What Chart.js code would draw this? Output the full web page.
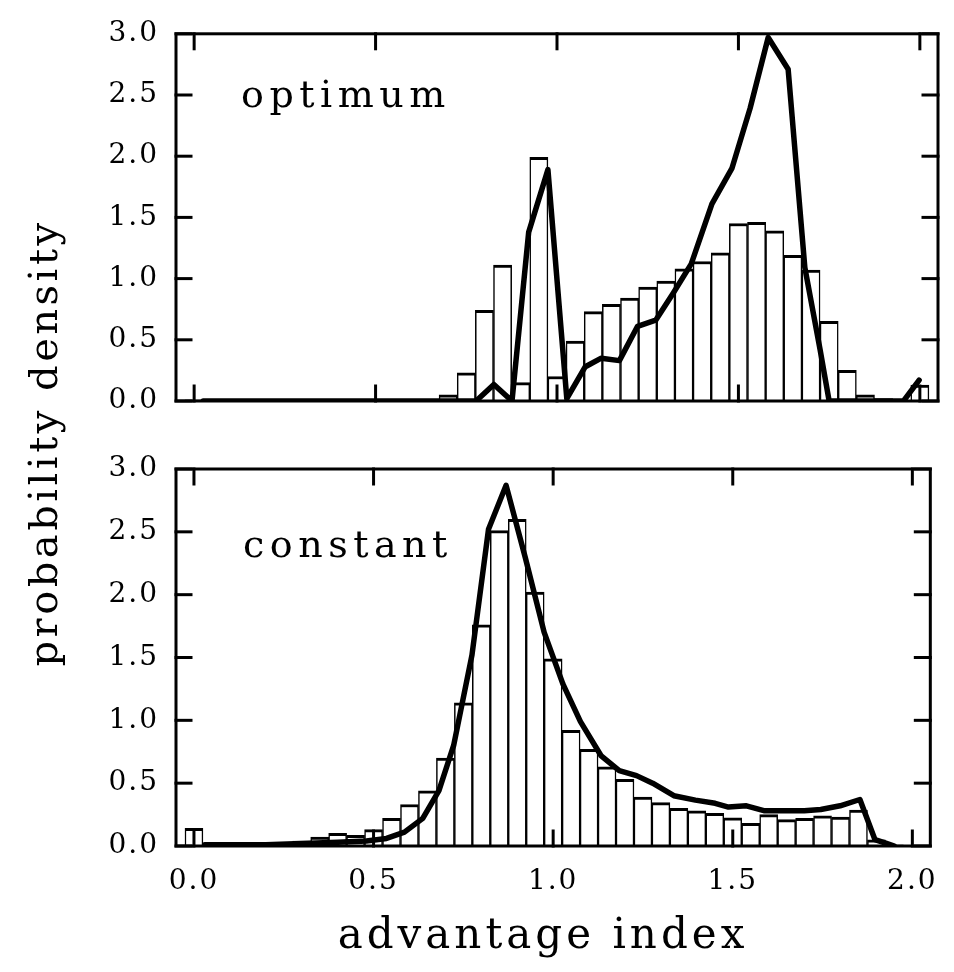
<!DOCTYPE html>
<html>
<head>
<meta charset="utf-8">
<script src="https://cdn.jsdelivr.net/npm/chart.js@4.4.0/dist/chart.umd.min.js"></script>
<style>
html,body{margin:0;padding:0;background:#fff;}
#wrap{position:relative;width:954px;height:972px;overflow:hidden;}
canvas{position:absolute;left:0;top:0;}
</style>
</head>
<body>
<div id="wrap">
<canvas id="cTop" width="954" height="972"></canvas>
<canvas id="cBot" width="954" height="972"></canvas>
</div>
<script>
// ---------- data ----------
const binCenters = [0.00,0.05,0.10,0.15,0.20,0.25,0.30,0.35,0.40,0.45,0.50,0.55,0.60,0.65,0.70,0.75,0.80,0.85,0.90,0.95,1.00,1.05,1.10,1.15,1.20,1.25,1.30,1.35,1.40,1.45,1.50,1.55,1.60,1.65,1.70,1.75,1.80,1.85,1.90,1.95,2.00];

const optimumBars = [0.01,0,0,0,0,0,0,0,0,0,0,0,0,0,0.05,0.23,0.74,1.11,0.15,1.99,0.20,0.49,0.73,0.79,0.84,0.93,0.98,1.08,1.14,1.21,1.45,1.46,1.39,1.19,1.07,0.65,0.25,0.05,0.02,0,0.13];

const constantBars = [0.14,0,0,0,0.01,0.02,0.04,0.07,0.10,0.085,0.13,0.22,0.33,0.44,0.70,1.14,1.76,2.51,2.60,2.02,1.49,0.92,0.77,0.63,0.53,0.39,0.345,0.30,0.28,0.26,0.225,0.18,0.25,0.21,0.22,0.24,0.23,0.285,0.05,0.01,0];

const optimumCurveX = [0.025,0.777,0.826,0.876,0.922,0.975,1.027,1.078,1.122,1.172,1.222,1.272,1.321,1.370,1.427,1.482,1.532,1.582,1.637,1.683,1.725,1.750,1.955,1.998];
const optimumCurveY = [0,0,0.135,0,1.38,1.89,0.02,0.28,0.35,0.33,0.61,0.66,0.885,1.12,1.61,1.90,2.39,2.97,2.71,1.09,0.42,0,0,0.17];

const constantCurveX = [0.03,0.20,0.30,0.40,0.48,0.536,0.586,0.637,0.682,0.723,0.774,0.820,0.869,0.922,0.975,1.027,1.076,1.133,1.184,1.232,1.277,1.336,1.396,1.451,1.488,1.538,1.589,1.644,1.699,1.745,1.799,1.854,1.896,1.928,1.950];
const constantCurveY = [0.01,0.01,0.02,0.03,0.04,0.06,0.11,0.22,0.44,0.80,1.52,2.52,2.87,2.30,1.70,1.29,0.99,0.72,0.60,0.56,0.50,0.40,0.365,0.34,0.31,0.32,0.28,0.28,0.28,0.29,0.32,0.37,0.05,0.02,0.0];

const xTickValues = [0.0,0.5,1.0,1.5,2.0];
const yTickValues = [0.0,0.5,1.0,1.5,2.0,2.5,3.0];
const panelLabels = ['optimum','constant'];
const xAxisTitle = 'advantage index';
const yAxisTitle = 'probability density';

// ---------- helpers ----------
const FONT = "'DejaVu Serif', 'Liberation Serif', serif";
Chart.defaults.font.family = FONT;
Chart.defaults.color = '#000';

function toPoints(xs, ys){ return xs.map((x,i)=>({x:x, y:ys[i]})); }

function spacedText(ctx, text, x, y, font, ls, align, rot){
  ctx.save();
  ctx.font = font;
  ctx.fillStyle = '#000';
  if ('letterSpacing' in ctx) ctx.letterSpacing = ls + 'px';
  ctx.textAlign = align;
  ctx.textBaseline = 'alphabetic';
  ctx.translate(x, y);
  if (rot) ctx.rotate(rot);
  ctx.fillText(text, 0, 0);
  ctx.restore();
}

const spacingPlugin = {
  id: 'spacing',
  beforeDraw(chart){ if ('letterSpacing' in chart.ctx) chart.ctx.letterSpacing = '2px'; }
};

function seg(ctx, x1, y1, x2, y2){
  ctx.beginPath(); ctx.moveTo(x1, y1); ctx.lineTo(x2, y2); ctx.stroke();
}

const framePlugin = {
  id: 'frame',
  afterDraw(chart, args, opts){
    const ctx = chart.ctx;
    const a = chart.chartArea;
    const xs = chart.scales.x, ys = chart.scales.y;
    ctx.save();
    ctx.setLineDash([]);
    ctx.strokeStyle = '#000';
    ctx.lineWidth = 3;
    ctx.lineCap = 'square';
    ctx.strokeRect(a.left, a.top, a.right - a.left, a.bottom - a.top);
    const L = 15;
    xTickValues.forEach(v => {
      const px = xs.getPixelForValue(v);
      seg(ctx, px, a.top, px, a.top + L);
      seg(ctx, px, a.bottom, px, a.bottom - L);
    });
    yTickValues.forEach(v => {
      const py = ys.getPixelForValue(v);
      seg(ctx, a.left, py, a.left + L, py);
      seg(ctx, a.right, py, a.right - L, py);
    });
    ctx.restore();
    spacedText(ctx, opts.label, opts.lx, opts.ly, "38px " + FONT, 5.5, 'left', 0);
    if (opts.titles) {
      spacedText(ctx, xAxisTitle, 543, 948, "42px " + FONT, 4, 'center', 0);
      spacedText(ctx, yAxisTitle, 57, 443, "40px " + FONT, 3.5, 'center', -Math.PI/2);
    }
  }
};

function makeChart(canvasId, bars, cx, cy, label, isBottom){
  const plotTop = isBottom ? 469 : 24;
  const plotBottom = isBottom ? 846 : 401;
  return new Chart(document.getElementById(canvasId), {
    type: 'bar',
    data: {
      datasets: [
        {
          type: 'line',
          data: toPoints(cx, cy),
          borderColor: '#000',
          borderWidth: 5.5,
          pointRadius: 0,
          tension: 0,
          fill: false,
          borderJoinStyle: 'round',
          borderCapStyle: 'round',
          order: 0
        },
        {
          type: 'bar',
          data: toPoints(binCenters, bars),
          backgroundColor: '#fff',
          borderColor: '#000',
          borderWidth: {top: 3, left: 1.5, right: 1.5, bottom: 0},
          borderSkipped: 'start',
          barPercentage: 1.0,
          categoryPercentage: 1.0,
          order: 1
        }
      ]
    },
    options: {
      responsive: false,
      animation: false,
      devicePixelRatio: 1,
      events: [],
      layout: { padding: { left: 0, right: 16, top: plotTop, bottom: isBottom ? 0 : 972 - plotBottom } },
      plugins: {
        legend: { display: false },
        tooltip: { enabled: false },
        frame: { label: label, lx: isBottom ? 243 : 241, ly: isBottom ? 557 : 107, titles: isBottom }
      },
      scales: {
        x: {
          type: 'linear',
          offset: false,
          min: -0.05, max: 2.05,
          afterBuildTicks: s => { s.ticks = xTickValues.map(v => ({value: v})); },
          afterFit: s => { s.height = isBottom ? 972 - plotBottom : 0; },
          ticks: {
            display: isBottom,
            padding: 19,
            font: { size: 28 },
            color: '#000',
            maxRotation: 0,
            autoSkip: false,
            callback: v => Number(v).toFixed(1)
          },
          grid: { display: false, drawTicks: false },
          border: { display: false }
        },
        y: {
          type: 'linear',
          min: 0, max: 3,
          afterBuildTicks: s => { s.ticks = yTickValues.map(v => ({value: v})); },
          afterFit: s => { s.width = 176; },
          ticks: {
            padding: 17,
            font: { size: 28 },
            color: '#000',
            autoSkip: false,
            callback: v => Number(v).toFixed(1)
          },
          grid: { display: false, drawTicks: false },
          border: { display: false }
        }
      }
    },
    plugins: [spacingPlugin, framePlugin]
  });
}

makeChart('cTop', optimumBars, optimumCurveX, optimumCurveY, panelLabels[0], false);
makeChart('cBot', constantBars, constantCurveX, constantCurveY, panelLabels[1], true);
</script>
</body>
</html>
